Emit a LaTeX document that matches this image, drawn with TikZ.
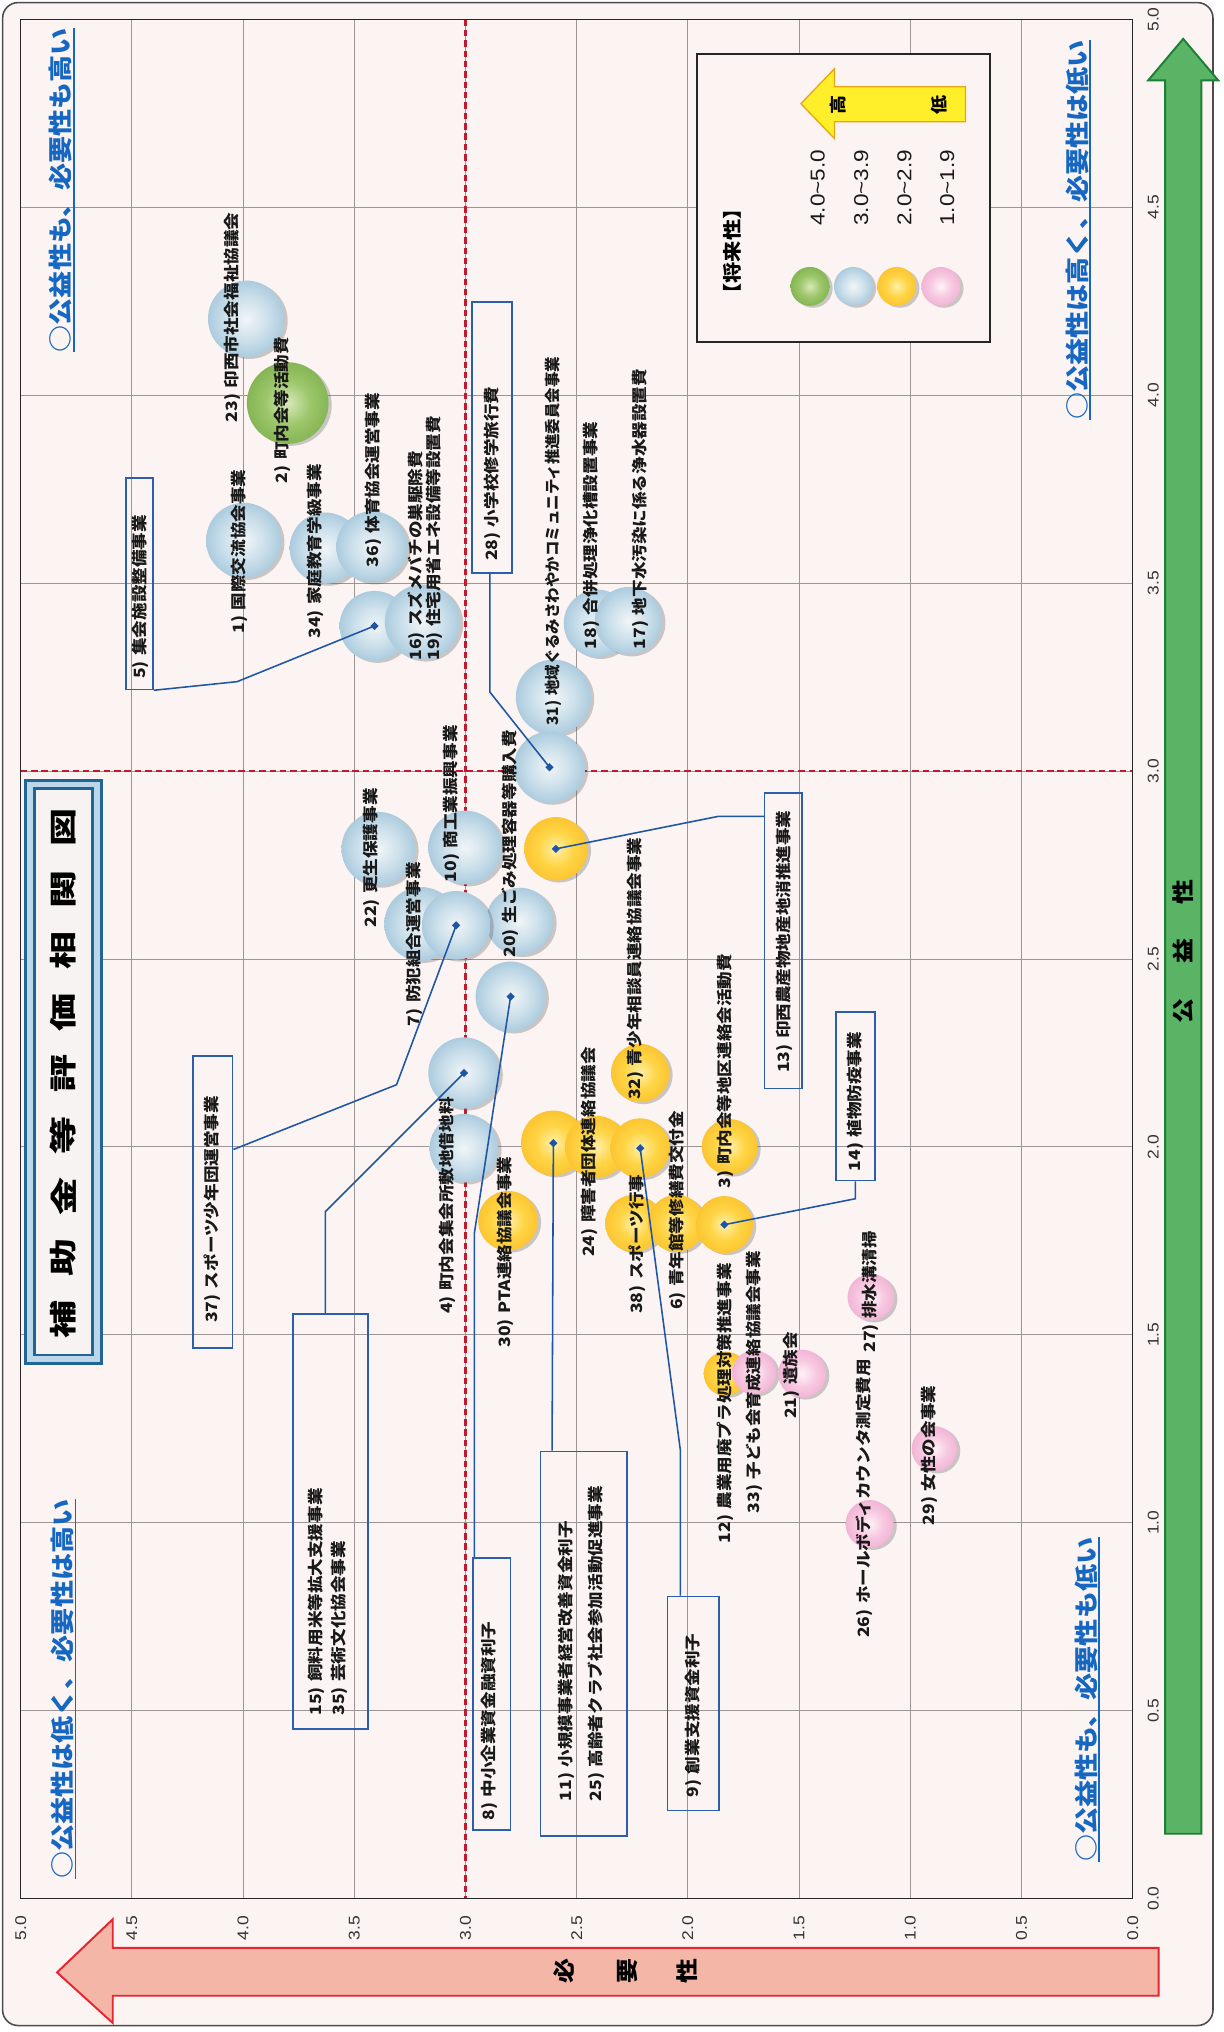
\documentclass[tikz,border=0pt]{standalone}
\usepackage{fontspec}
\setmainfont{Liberation Sans}
\newfontfamily\jp[FakeStretch=1.13]{Noto Sans CJK JP}
\newfontfamily\jt[FakeStretch=1.4]{Noto Sans CJK JP}
\newfontfamily\numf[FakeStretch=1.12]{Liberation Sans}
\usetikzlibrary{shadows,shapes.geometric}

\definecolor{pagebg}{HTML}{FBF4F2}
\definecolor{gridc}{HTML}{9C9696}
\definecolor{redl}{HTML}{C01A30}
\definecolor{lineb}{HTML}{1F55A6}
\definecolor{qblue}{HTML}{1667C2}
\definecolor{boxb}{HTML}{2B5FAE}
\definecolor{tdark}{HTML}{1F6596}
\definecolor{tband}{HTML}{BCD6EA}
\definecolor{tin}{HTML}{F7F3F3}
\definecolor{bbc}{HTML}{F1F5F7}
\definecolor{bbm}{HTML}{CCE0EB}
\definecolor{bbe}{HTML}{86B3CF}
\definecolor{bbr}{HTML}{6495B8}
\definecolor{oc}{HTML}{FFF0A8}
\definecolor{om}{HTML}{FFD444}
\definecolor{oe}{HTML}{F8B41C}
\definecolor{orr}{HTML}{EE9C10}
\definecolor{gc}{HTML}{D8E8B8}
\definecolor{gm}{HTML}{9CC66A}
\definecolor{ge}{HTML}{6AA33A}
\definecolor{gr}{HTML}{4E8A26}
\definecolor{pc}{HTML}{FFF2F8}
\definecolor{pm}{HTML}{F7C9E1}
\definecolor{pe}{HTML}{EC9DC9}
\definecolor{pr}{HTML}{DF7DB3}
\definecolor{garf}{HTML}{5BB466}
\definecolor{gard}{HTML}{1B7F35}
\definecolor{parf}{HTML}{F4B6A7}
\definecolor{pard}{HTML}{E3262F}
\definecolor{yelf}{HTML}{FFEF2A}
\definecolor{yeld}{HTML}{E8A317}

\pgfdeclareradialshading{shblue}{\pgfpoint{0bp}{0bp}}{color(0bp)=(bbc); color(14bp)=(bbm); color(38bp)=(bbe); color(50bp)=(bbr)}
\pgfdeclareradialshading{shorange}{\pgfpoint{0bp}{0bp}}{color(0bp)=(oc); color(14bp)=(om); color(38bp)=(oe); color(50bp)=(orr)}
\pgfdeclareradialshading{shgreen}{\pgfpoint{0bp}{0bp}}{color(0bp)=(gc); color(14bp)=(gm); color(38bp)=(ge); color(50bp)=(gr)}
\pgfdeclareradialshading{shpink}{\pgfpoint{0bp}{0bp}}{color(0bp)=(pc); color(14bp)=(pm); color(38bp)=(pe); color(50bp)=(pr)}

\newcommand\lgap{\hspace{.35em}}

\begin{document}
\begin{tikzpicture}[x=1pt,y=-1pt,
  lab/.style={rotate=90, anchor=west, inner sep=0pt, text=black!90,
    font=\jp\bfseries\fontsize{12}{12}\selectfont},
  quad/.style={rotate=90, anchor=west, inner sep=0pt, text=qblue,
    font=\jp\bfseries\fontsize{18.5}{18.5}\selectfont},
  tick/.style={rotate=90, inner sep=0pt, text=black!80,
    font=\numf\fontsize{12}{12}\selectfont},
  axl/.style={rotate=90, inner sep=0pt, text=black,
    font=\jp\bfseries\fontsize{17}{17}\selectfont},
  legt/.style={rotate=90, inner sep=0pt, text=black!90,
    font=\numf\fontsize{15.5}{15.5}\selectfont},
  bub/.style={circle, inner sep=0pt, minimum size=#1, shade,
    drop shadow={opacity=0.3, shadow xshift=2.5pt, shadow yshift=-1.5pt, fill=black!65}},
  mydot/.style={rectangle, rotate=45, fill=lineb, inner sep=0pt, minimum size=4.5},
  conn/.style={draw=lineb, line width=1.2},
  boxn/.style={draw=boxb, line width=1.3, inner sep=0pt},
]
% canvas and page
\fill[white] (0,0) rectangle (944,1568);
\useasboundingbox (0,0) rectangle (944,1568);
\draw[line width=1.2, black!70, rounded corners=12, fill=pagebg] (2,2) rectangle (936,1563);

% grid
\foreach \i in {1,...,9} {
  \draw[gridc, line width=0.7] ({874-85.8*\i},15) -- ({874-85.8*\i},1465);
  \draw[gridc, line width=0.7] (16,{1465-145*\i}) -- (874,{1465-145*\i});
}
\draw[redl, dash pattern=on 5pt off 3pt, line width=1.7] (359.2,15) -- (359.2,1465);
\draw[redl, dash pattern=on 5pt off 3pt, line width=1.7] (16,595) -- (874,595);
\draw[black!85, line width=1] (16,15) rectangle (874,1465);

% tick labels
\foreach \t [count=\i from 0] in {0.0,0.5,1.0,1.5,2.0,2.5,3.0,3.5,4.0,4.5,5.0} {
  \node[tick] (rt\i) at (890,{1465-145*\i}) {\t};
  \node[tick] (bt\i) at ({874-85.8*\i},1488) {\t};
}

% axis arrows
\filldraw[fill=garf, draw=gard, line width=1.5]
  (899,1415) -- (899,62) -- (886,62) -- (913,30) -- (940,62) -- (927,62) -- (927,1415) -- cycle;
\node[axl] (ax1) at (913,780) {公};
\node[axl] (ax2) at (913,734) {益};
\node[axl] (ax3) at (913,688) {性};
\filldraw[fill=parf, draw=pard, line width=1.5]
  (894,1503) -- (87,1503) -- (87,1481) -- (44,1522) -- (87,1561) -- (87,1540) -- (894,1540) -- cycle;
\node[axl] (ay1) at (435,1521) {必};
\node[axl] (ay2) at (484,1521) {要};
\node[axl] (ay3) at (530,1521) {性};

% quadrant labels
\node[quad] (q1) at (47,272) {○公益性も、必要性も高い};
\node[quad] (q2) at (831,324) {○公益性は高く、必要性は低い};
\node[quad] (q3) at (48,1450) {○公益性は低く、必要性は高い};
\node[quad] (q4) at (838,1437) {○公益性も、必要性も低い};
\foreach \q in {q1,q2,q3,q4}
  \draw[qblue, line width=1] ([xshift=1pt]\q.south west) -- ([xshift=1pt]\q.south east);

% title
\node[draw=tdark, line width=2.2, fill=tband, minimum width=58, minimum height=450, inner sep=0pt] (tbo) at (49,827) {};
\node[draw=tdark, line width=1.8, fill=tin, minimum width=45, minimum height=437, inner sep=0pt] (tbi) at (49,827) {};
\foreach \c [count=\i from 0] in {補,助,金,等,評,価,相,関,図}
  \node[rotate=90, inner sep=0pt, font=\jt\bfseries\fontsize{21}{21}\selectfont] (tc\i) at (49,{1018-47.4*\i}) {\c};

% legend
\node[draw=black!85, line width=1.6, fill=pagebg, minimum width=226, minimum height=222, inner sep=0pt] (leg) at (651,153) {};
\filldraw[fill=yelf, draw=yeld, line width=1]
  (618,80) -- (644,53) -- (644,67) -- (745,67) -- (745,94) -- (644,94) -- (644,107) -- cycle;
\node[axl, font=\jp\bfseries\fontsize{13}{13}\selectfont] (lhi) at (647,81) {高};
\node[axl, font=\jp\bfseries\fontsize{13}{13}\selectfont] (llo) at (725,81) {低};
\node[axl, font=\jp\bfseries\fontsize{14.5}{14.5}\selectfont] (lti) at (565,194) {【将来性】};
\node[bub=30, shading=shgreen] (lg1) at (625,221) {};
\node[bub=30, shading=shblue] (lg2) at (658.5,221) {};
\node[bub=30, shading=shorange] (lg3) at (692,221) {};
\node[bub=30, shading=shpink] (lg4) at (726,221) {};
\node[legt] (lt1) at (631,145) {4.0\textasciitilde 5.0};
\node[legt] (lt2) at (664.5,145) {3.0\textasciitilde 3.9};
\node[legt] (lt3) at (698,145) {2.0\textasciitilde 2.9};
\node[legt] (lt4) at (731,145) {1.0\textasciitilde 1.9};

% bubbles: blue
\node[bub=59, shading=shblue] (b23) at (190,246) {};
\node[bub=58, shading=shblue] (b1) at (188,417) {};
\node[bub=55, shading=shblue] (b34) at (251,423) {};
\node[bub=55, shading=shblue] (b36) at (287,422) {};
\node[bub=54, shading=shblue] (b5) at (289,483) {};
\node[bub=58, shading=shblue] (b16) at (326,480) {};
\node[bub=58, shading=shblue] (b31) at (427,538) {};
\node[bub=55, shading=shblue] (b28) at (424,592) {};
\node[bub=52, shading=shblue] (b18) at (461,481) {};
\node[bub=52, shading=shblue] (b17) at (485,479) {};
\node[bub=57, shading=shblue] (b22) at (292,655) {};
\node[bub=57, shading=shblue] (b10) at (359,654) {};
\node[bub=57, shading=shblue] (b7) at (325,713) {};
\node[bub=52, shading=shblue] (b20) at (401,711) {};
\node[bub=53, shading=shblue] (b37) at (352,714) {};
\node[bub=54, shading=shblue] (b8) at (394,769) {};
\node[bub=55, shading=shblue] (b15) at (358,828) {};
\node[bub=53, shading=shblue] (b4) at (358,886) {};
% green
\node[bub=63, shading=shgreen] (b2) at (222,311) {};
% orange
\node[bub=49, shading=shorange] (b13) at (429,655) {};
\node[bub=46, shading=shorange] (b30) at (392,942) {};
\node[bub=50, shading=shorange] (b11) at (427,882) {};
\node[bub=48, shading=shorange] (b24) at (460,885) {};
\node[bub=46, shading=shorange] (b9) at (494,886) {};
\node[bub=45, shading=shorange] (b32) at (494,828) {};
\node[bub=43, shading=shorange] (b3) at (563,885) {};
\node[bub=44, shading=shorange] (b38) at (489,944) {};
\node[bub=44, shading=shorange] (b6) at (522,944) {};
\node[bub=44, shading=shorange] (b14) at (559,945) {};
\node[bub=34, shading=shorange] (b12) at (560,1060) {};
% pink
\node[bub=34, shading=shpink] (b33) at (582,1059) {};
\node[bub=37, shading=shpink] (b21) at (619,1060) {};
\node[bub=36, shading=shpink] (b27) at (672,1001) {};
\node[bub=37, shading=shpink] (b26) at (671,1176) {};
\node[bub=35, shading=shpink] (b29) at (721,1118) {};

% free labels
\node[lab] (l23) at (179,326) {23)\lgap 印西市社会福祉協議会};
\node[lab] (l2) at (218,373) {2)\lgap 町内会等活動費};
\node[lab] (l1) at (185,489) {1)\lgap 国際交流協会事業};
\node[lab] (l34) at (243,493) {34)\lgap 家庭教育学級事業};
\node[lab] (l36) at (288,438) {36)\lgap 体育協会運営事業};
\node[lab] (l16) at (321,510) {16)\lgap スズメバチの巣駆除費};
\node[lab] (l19) at (335,510) {19)\lgap 住宅用省エネ設備等設置費};
\node[lab, xscale=0.88] (l31) at (427,560) {31)\lgap 地域ぐるみさわやかコミュニティ推進委員会事業};
\node[lab] (l18) at (456,501) {18)\lgap 合併処理浄化槽設置事業};
\node[lab] (l17) at (494,501) {17)\lgap 地下水汚染に係る浄水器設置費};
\node[lab] (l22) at (287,716) {22)\lgap 更生保護事業};
\node[lab] (l10) at (348,681) {10)\lgap 商工業振興事業};
\node[lab] (l7) at (320,792) {7)\lgap 防犯組合運営事業};
\node[lab] (l20) at (394,739) {20)\lgap 生ごみ処理容器等購入費};
\node[lab] (l4) at (345,1014) {4)\lgap 町内会集会所敷地借地料};
\node[lab] (l30) at (390,1040) {30)\lgap PTA連絡協議会事業};
\node[lab] (l24) at (455,970) {24)\lgap 障害者団体連絡協議会};
\node[lab] (l32) at (490,849) {32)\lgap 青少年相談員連絡協議会事業};
\node[lab] (l3) at (560,917) {3)\lgap 町内会等地区連絡会活動費};
\node[lab] (l38) at (492,1014) {38)\lgap スポーツ行事};
\node[lab] (l6) at (523,1011) {6)\lgap 青年館等修繕費交付金};
\node[lab] (l12) at (560,1191) {12)\lgap 農業用廃プラ処理対策推進事業};
\node[lab] (l33) at (582,1168) {33)\lgap 子ども会育成連絡協議会事業};
\node[lab] (l21) at (611,1095) {21)\lgap 遺族会};
\node[lab] (l27) at (672,1044) {27)\lgap 排水溝清掃};
\node[lab] (l26) at (667,1264) {26)\lgap ホールボディカウンタ測定費用};
\node[lab] (l29) at (717,1177) {29)\lgap 女性の会事業};

% boxes
\node[boxn, minimum width=21, minimum height=163] (k5) at (107.5,450.5) {};
\node[boxn, minimum width=31, minimum height=209] (k28) at (379.5,337.5) {};
\node[boxn, minimum width=29, minimum height=228] (k13) at (604.5,726) {};
\node[boxn, minimum width=30, minimum height=130] (k14) at (660,846) {};
\node[boxn, minimum width=30.5, minimum height=225] (k37) at (164.25,927.5) {};
\node[boxn, minimum width=58, minimum height=320] (k15) at (255,1174) {};
\node[boxn, minimum width=29, minimum height=210] (k8) at (379.5,1307) {};
\node[boxn, minimum width=67, minimum height=297] (k11) at (450.5,1268.5) {};
\node[boxn, minimum width=40, minimum height=165] (k9) at (535,1314.5) {};

\node[lab] (t5) at (108,524) {5)\lgap 集会施設整備事業};
\node[lab] (t28) at (380,433) {28)\lgap 小学校修学旅行費};
\node[lab] (t13) at (605,828) {13)\lgap 印西農産物地産地消推進事業};
\node[lab] (t14) at (660,904) {14)\lgap 植物防疫事業};
\node[lab] (t37) at (164,1021) {37)\lgap スポーツ少年団運営事業};
\node[lab] (t15) at (244,1324) {15)\lgap 飼料用米等拡大支援事業};
\node[lab] (t35) at (262,1324) {35)\lgap 芸術文化協会事業};
\node[lab] (t8) at (378,1405) {8)\lgap 中小企業資金融資利子};
\node[lab] (t11) at (437,1390) {11)\lgap 小規模事業者経営改善資金利子};
\node[lab] (t25) at (460,1390) {25)\lgap 高齢者クラブ社会参加活動促進事業};
\node[lab] (t9) at (535,1387) {9)\lgap 創業支援資金利子};

% connector bends
\coordinate (c5) at (183,526);
\coordinate (c28) at (378,534);
\coordinate (c13) at (554,630);
\coordinate (c14) at (660,925);
\coordinate (c37) at (306,837);
\coordinate (c15) at (251,935);
\coordinate (c8) at (366,952);
\coordinate (c9) at (525,1119);

% dots
\node[mydot] (d5) at (b5.center) {};
\node[mydot] (d28) at (b28.center) {};
\node[mydot] (d13) at (b13.center) {};
\node[mydot] (d14) at (b14.center) {};
\node[mydot] (d37) at (b37.center) {};
\node[mydot] (d15) at (b15.center) {};
\node[mydot] (d8) at (b8.center) {};
\node[mydot] (d11) at (b11.center) {};
\node[mydot] (d9) at (b9.center) {};

% connectors
\draw[conn] (k5.south east) -- (c5) -- (d5.center);
\draw[conn] (k28.south -| c28) -- (c28) -- (d28.center);
\draw[conn] (k13.west |- c13) -- (c13) -- (d13.center);
\draw[conn] (k14.south) -- (c14) -- (d14.center);
\draw[conn] (k37.east |- 0,887) -- (c37) -- (d37.center);
\draw[conn] (k15.north -| c15) -- (c15) -- (d15.center);
\draw[conn] (k8.north -| c8) -- (c8) -- (d8.center);
\draw[conn] (k11.north -| 426,0) -- (d11.center);
\draw[conn] (k9.north -| c9) -- (c9) -- (d9.center);
\end{tikzpicture}
\end{document}
